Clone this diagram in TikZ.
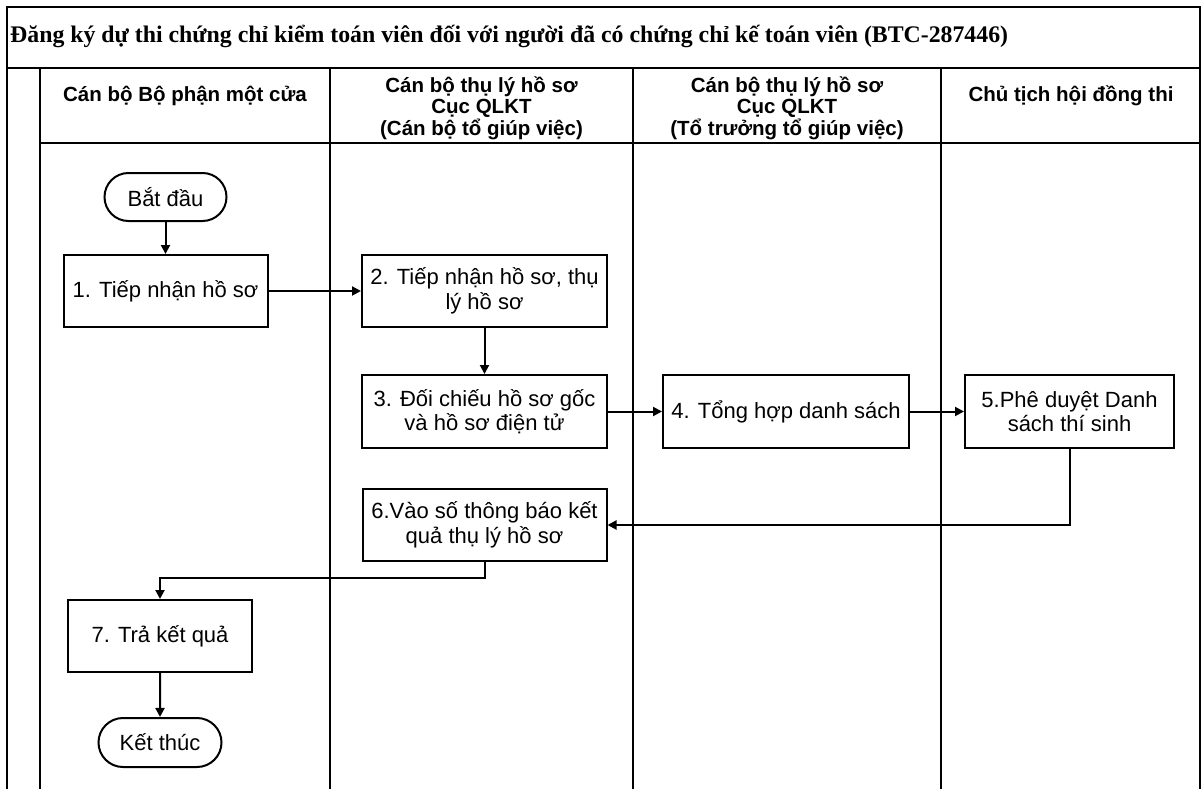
\documentclass[tikz,border=0pt]{standalone}
\usepackage{fontspec}
\setmainfont{Liberation Sans}
\newfontfamily\titlefamily{Liberation Serif}
\usetikzlibrary{arrows.meta,shapes.misc}

\begin{document}
\begin{tikzpicture}[x=1pt,y=-1pt,
  rule/.style={line width=2pt},
  thinrule/.style={line width=1.2pt},
  headtext/.style={align=center,inner sep=0pt,
    font=\bfseries\fontsize{20.5}{21.5}\selectfont},
  stepbox/.style={draw,line width=2pt,align=center,inner sep=0pt,
    font=\fontsize{22}{24.5}\selectfont},
  termbox/.style={stepbox,rounded rectangle},
  flow/.style={line width=2pt,-{Triangle[length=9pt,width=9pt]}}]

\useasboundingbox (0,0) rectangle (1202,789);

% table frame and swimlanes
\draw[rule] (7,789) -- (7,7) -- (1200,7) -- (1200,789);
\draw[rule] (7,68) -- (1200,68);
\draw[rule] (40,68) -- (40,789);
\draw[rule] (330,68) -- (330,789);
\draw[rule] (633,68) -- (633,789);
\draw[rule] (941,68) -- (941,789);
\draw[thinrule] (40,143) -- (1200,143);

% title
\node[anchor=west,inner sep=0pt,font=\titlefamily\bfseries\fontsize{23.8}{26}\selectfont]
  (title) at (10,36) {Đăng ký dự thi chứng chỉ kiểm toán viên đối với người đã có chứng chỉ kế toán viên (BTC-287446)};

% lane headers
\node[headtext] (h1) at (185,96) {Cán bộ Bộ phận một cửa};
\node[headtext] (h2) at (481.5,108) {Cán bộ thụ lý hồ sơ\\Cục QLKT\\(Cán bộ tổ giúp việc)};
\node[headtext] (h3) at (787,108) {Cán bộ thụ lý hồ sơ\\Cục QLKT\\(Tổ trưởng tổ giúp việc)};
\node[headtext] (h4) at (1071,96) {Chủ tịch hội đồng thi};

% process steps
\node[termbox,minimum width=122pt,minimum height=48pt] (start) at (165.5,197) {Bắt đầu};
\node[stepbox,minimum width=204pt,minimum height=72pt] (n1) at (165.5,291) {1. Tiếp nhận hồ sơ};
\node[stepbox,minimum width=245pt,minimum height=72pt] (n2) at (484.5,291) {2. Tiếp nhận hồ sơ, thụ\\lý hồ sơ};
\node[stepbox,minimum width=245pt,minimum height=73pt] (n3) at (484.5,411.5) {3. Đối chiếu hồ sơ gốc\\và hồ sơ điện tử};
\node[stepbox,minimum width=246pt,minimum height=73pt] (n4) at (786,411.5) {4. Tổng hợp danh sách};
\node[stepbox,minimum width=209pt,minimum height=73pt] (n5) at (1069.5,411.5) {5.Phê duyệt Danh\\sách thí sinh};
\node[stepbox,minimum width=244pt,minimum height=72pt] (n6) at (484.5,525) {6.Vào số thông báo kết\\quả thụ lý hồ sơ};
\node[stepbox,minimum width=184pt,minimum height=72pt] (n7) at (160,636) {7. Trả kết quả};
\node[termbox,minimum width=123pt,minimum height=49pt] (end) at (160,742.5) {Kết thúc};

% connectors
\draw[flow] (start) -- (n1);
\draw[flow] (n1) -- (n2);
\draw[flow] (n2) -- (n3);
\draw[flow] (n3) -- (n4);
\draw[flow] (n4) -- (n5);
\draw[flow] (n5.south) |- (n6.east);
\draw[flow] (n6.south) -- ++(0,16) -| (n7.north);
\draw[flow] (n7) -- (end);
\end{tikzpicture}
\end{document}
